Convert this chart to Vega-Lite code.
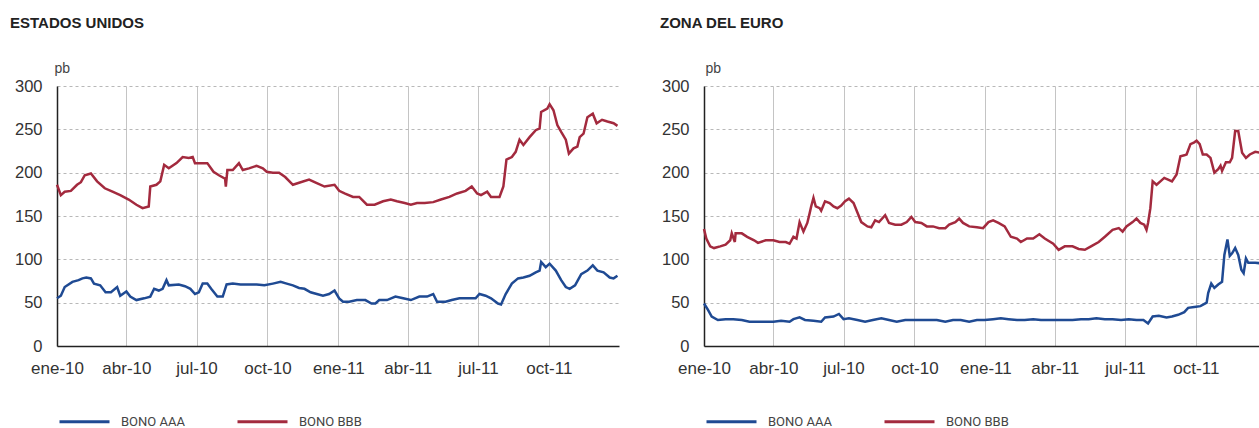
{
"$schema": "https://vega.github.io/schema/vega-lite/v6.json",
"padding": {"left": 10, "top": 16, "right": 0, "bottom": 0},
"background": "white",
"config": {"view": {"stroke": null}, "font": "Liberation Sans"},
"datasets": {"d": [
{"zona":"US","serie":"BONO BBB","fecha":"2010-01-01","pb":186},{"zona":"US","serie":"BONO BBB","fecha":"2010-01-06","pb":174},{"zona":"US","serie":"BONO BBB","fecha":"2010-01-11","pb":178},{"zona":"US","serie":"BONO BBB","fecha":"2010-01-19","pb":179},{"zona":"US","serie":"BONO BBB","fecha":"2010-01-27","pb":186},{"zona":"US","serie":"BONO BBB","fecha":"2010-02-01","pb":189},{"zona":"US","serie":"BONO BBB","fecha":"2010-02-06","pb":197},{"zona":"US","serie":"BONO BBB","fecha":"2010-02-14","pb":199},{"zona":"US","serie":"BONO BBB","fecha":"2010-02-22","pb":190},{"zona":"US","serie":"BONO BBB","fecha":"2010-03-04","pb":182},{"zona":"US","serie":"BONO BBB","fecha":"2010-03-14","pb":178},{"zona":"US","serie":"BONO BBB","fecha":"2010-03-24","pb":174},{"zona":"US","serie":"BONO BBB","fecha":"2010-04-04","pb":169},{"zona":"US","serie":"BONO BBB","fecha":"2010-04-14","pb":163},{"zona":"US","serie":"BONO BBB","fecha":"2010-04-22","pb":159},{"zona":"US","serie":"BONO BBB","fecha":"2010-04-30","pb":161},{"zona":"US","serie":"BONO BBB","fecha":"2010-05-02","pb":184},{"zona":"US","serie":"BONO BBB","fecha":"2010-05-10","pb":186},{"zona":"US","serie":"BONO BBB","fecha":"2010-05-15","pb":190},{"zona":"US","serie":"BONO BBB","fecha":"2010-05-20","pb":209},{"zona":"US","serie":"BONO BBB","fecha":"2010-05-26","pb":205},{"zona":"US","serie":"BONO BBB","fecha":"2010-06-05","pb":211},{"zona":"US","serie":"BONO BBB","fecha":"2010-06-13","pb":218},{"zona":"US","serie":"BONO BBB","fecha":"2010-06-21","pb":217},{"zona":"US","serie":"BONO BBB","fecha":"2010-06-26","pb":218},{"zona":"US","serie":"BONO BBB","fecha":"2010-06-29","pb":211},{"zona":"US","serie":"BONO BBB","fecha":"2010-07-07","pb":211},{"zona":"US","serie":"BONO BBB","fecha":"2010-07-15","pb":211},{"zona":"US","serie":"BONO BBB","fecha":"2010-07-23","pb":201},{"zona":"US","serie":"BONO BBB","fecha":"2010-07-30","pb":197},{"zona":"US","serie":"BONO BBB","fecha":"2010-08-07","pb":193},{"zona":"US","serie":"BONO BBB","fecha":"2010-08-08","pb":184},{"zona":"US","serie":"BONO BBB","fecha":"2010-08-10","pb":203},{"zona":"US","serie":"BONO BBB","fecha":"2010-08-17","pb":203},{"zona":"US","serie":"BONO BBB","fecha":"2010-08-25","pb":211},{"zona":"US","serie":"BONO BBB","fecha":"2010-08-30","pb":203},{"zona":"US","serie":"BONO BBB","fecha":"2010-09-07","pb":205},{"zona":"US","serie":"BONO BBB","fecha":"2010-09-17","pb":208},{"zona":"US","serie":"BONO BBB","fecha":"2010-09-25","pb":205},{"zona":"US","serie":"BONO BBB","fecha":"2010-09-30","pb":201},{"zona":"US","serie":"BONO BBB","fecha":"2010-10-08","pb":200},{"zona":"US","serie":"BONO BBB","fecha":"2010-10-16","pb":200},{"zona":"US","serie":"BONO BBB","fecha":"2010-10-24","pb":195},{"zona":"US","serie":"BONO BBB","fecha":"2010-11-03","pb":186},{"zona":"US","serie":"BONO BBB","fecha":"2010-11-13","pb":189},{"zona":"US","serie":"BONO BBB","fecha":"2010-11-24","pb":192},{"zona":"US","serie":"BONO BBB","fecha":"2010-12-04","pb":188},{"zona":"US","serie":"BONO BBB","fecha":"2010-12-14","pb":184},{"zona":"US","serie":"BONO BBB","fecha":"2010-12-27","pb":186},{"zona":"US","serie":"BONO BBB","fecha":"2011-01-02","pb":179},{"zona":"US","serie":"BONO BBB","fecha":"2011-01-09","pb":176},{"zona":"US","serie":"BONO BBB","fecha":"2011-01-20","pb":172},{"zona":"US","serie":"BONO BBB","fecha":"2011-01-28","pb":172},{"zona":"US","serie":"BONO BBB","fecha":"2011-02-07","pb":163},{"zona":"US","serie":"BONO BBB","fecha":"2011-02-17","pb":163},{"zona":"US","serie":"BONO BBB","fecha":"2011-02-28","pb":167},{"zona":"US","serie":"BONO BBB","fecha":"2011-03-10","pb":169},{"zona":"US","serie":"BONO BBB","fecha":"2011-03-18","pb":167},{"zona":"US","serie":"BONO BBB","fecha":"2011-03-28","pb":165},{"zona":"US","serie":"BONO BBB","fecha":"2011-04-05","pb":163},{"zona":"US","serie":"BONO BBB","fecha":"2011-04-13","pb":165},{"zona":"US","serie":"BONO BBB","fecha":"2011-04-23","pb":165},{"zona":"US","serie":"BONO BBB","fecha":"2011-05-04","pb":166},{"zona":"US","serie":"BONO BBB","fecha":"2011-05-14","pb":169},{"zona":"US","serie":"BONO BBB","fecha":"2011-05-25","pb":172},{"zona":"US","serie":"BONO BBB","fecha":"2011-06-04","pb":176},{"zona":"US","serie":"BONO BBB","fecha":"2011-06-15","pb":179},{"zona":"US","serie":"BONO BBB","fecha":"2011-06-23","pb":184},{"zona":"US","serie":"BONO BBB","fecha":"2011-06-30","pb":176},{"zona":"US","serie":"BONO BBB","fecha":"2011-07-05","pb":174},{"zona":"US","serie":"BONO BBB","fecha":"2011-07-13","pb":178},{"zona":"US","serie":"BONO BBB","fecha":"2011-07-18","pb":172},{"zona":"US","serie":"BONO BBB","fecha":"2011-07-29","pb":172},{"zona":"US","serie":"BONO BBB","fecha":"2011-08-03","pb":184},{"zona":"US","serie":"BONO BBB","fecha":"2011-08-07","pb":215},{"zona":"US","serie":"BONO BBB","fecha":"2011-08-14","pb":218},{"zona":"US","serie":"BONO BBB","fecha":"2011-08-19","pb":224},{"zona":"US","serie":"BONO BBB","fecha":"2011-08-24","pb":238},{"zona":"US","serie":"BONO BBB","fecha":"2011-08-29","pb":232},{"zona":"US","serie":"BONO BBB","fecha":"2011-09-06","pb":241},{"zona":"US","serie":"BONO BBB","fecha":"2011-09-14","pb":249},{"zona":"US","serie":"BONO BBB","fecha":"2011-09-19","pb":251},{"zona":"US","serie":"BONO BBB","fecha":"2011-09-21","pb":270},{"zona":"US","serie":"BONO BBB","fecha":"2011-09-29","pb":274},{"zona":"US","serie":"BONO BBB","fecha":"2011-10-02","pb":279},{"zona":"US","serie":"BONO BBB","fecha":"2011-10-07","pb":272},{"zona":"US","serie":"BONO BBB","fecha":"2011-10-12","pb":255},{"zona":"US","serie":"BONO BBB","fecha":"2011-10-17","pb":247},{"zona":"US","serie":"BONO BBB","fecha":"2011-10-23","pb":238},{"zona":"US","serie":"BONO BBB","fecha":"2011-10-27","pb":222},{"zona":"US","serie":"BONO BBB","fecha":"2011-11-02","pb":228},{"zona":"US","serie":"BONO BBB","fecha":"2011-11-07","pb":230},{"zona":"US","serie":"BONO BBB","fecha":"2011-11-10","pb":241},{"zona":"US","serie":"BONO BBB","fecha":"2011-11-15","pb":245},{"zona":"US","serie":"BONO BBB","fecha":"2011-11-20","pb":264},{"zona":"US","serie":"BONO BBB","fecha":"2011-11-27","pb":268},{"zona":"US","serie":"BONO BBB","fecha":"2011-12-02","pb":257},{"zona":"US","serie":"BONO BBB","fecha":"2011-12-09","pb":261},{"zona":"US","serie":"BONO BBB","fecha":"2011-12-16","pb":259},{"zona":"US","serie":"BONO BBB","fecha":"2011-12-24","pb":257},{"zona":"US","serie":"BONO BBB","fecha":"2011-12-29","pb":254},
{"zona":"US","serie":"BONO AAA","fecha":"2010-01-01","pb":55},{"zona":"US","serie":"BONO AAA","fecha":"2010-01-06","pb":58},{"zona":"US","serie":"BONO AAA","fecha":"2010-01-11","pb":68},{"zona":"US","serie":"BONO AAA","fecha":"2010-01-21","pb":74},{"zona":"US","serie":"BONO AAA","fecha":"2010-01-29","pb":76},{"zona":"US","serie":"BONO AAA","fecha":"2010-02-03","pb":78},{"zona":"US","serie":"BONO AAA","fecha":"2010-02-08","pb":79},{"zona":"US","serie":"BONO AAA","fecha":"2010-02-14","pb":78},{"zona":"US","serie":"BONO AAA","fecha":"2010-02-18","pb":72},{"zona":"US","serie":"BONO AAA","fecha":"2010-02-26","pb":70},{"zona":"US","serie":"BONO AAA","fecha":"2010-03-05","pb":62},{"zona":"US","serie":"BONO AAA","fecha":"2010-03-12","pb":62},{"zona":"US","serie":"BONO AAA","fecha":"2010-03-20","pb":68},{"zona":"US","serie":"BONO AAA","fecha":"2010-03-24","pb":58},{"zona":"US","serie":"BONO AAA","fecha":"2010-04-01","pb":63},{"zona":"US","serie":"BONO AAA","fecha":"2010-04-06","pb":57},{"zona":"US","serie":"BONO AAA","fecha":"2010-04-14","pb":53},{"zona":"US","serie":"BONO AAA","fecha":"2010-04-24","pb":55},{"zona":"US","serie":"BONO AAA","fecha":"2010-05-02","pb":57},{"zona":"US","serie":"BONO AAA","fecha":"2010-05-07","pb":66},{"zona":"US","serie":"BONO AAA","fecha":"2010-05-13","pb":64},{"zona":"US","serie":"BONO AAA","fecha":"2010-05-18","pb":66},{"zona":"US","serie":"BONO AAA","fecha":"2010-05-23","pb":76},{"zona":"US","serie":"BONO AAA","fecha":"2010-05-26","pb":70},{"zona":"US","serie":"BONO AAA","fecha":"2010-06-08","pb":71},{"zona":"US","serie":"BONO AAA","fecha":"2010-06-16","pb":69},{"zona":"US","serie":"BONO AAA","fecha":"2010-06-23","pb":66},{"zona":"US","serie":"BONO AAA","fecha":"2010-06-29","pb":60},{"zona":"US","serie":"BONO AAA","fecha":"2010-07-04","pb":62},{"zona":"US","serie":"BONO AAA","fecha":"2010-07-09","pb":72},{"zona":"US","serie":"BONO AAA","fecha":"2010-07-15","pb":72},{"zona":"US","serie":"BONO AAA","fecha":"2010-07-20","pb":66},{"zona":"US","serie":"BONO AAA","fecha":"2010-07-28","pb":57},{"zona":"US","serie":"BONO AAA","fecha":"2010-08-04","pb":57},{"zona":"US","serie":"BONO AAA","fecha":"2010-08-09","pb":71},{"zona":"US","serie":"BONO AAA","fecha":"2010-08-17","pb":72},{"zona":"US","serie":"BONO AAA","fecha":"2010-08-27","pb":71},{"zona":"US","serie":"BONO AAA","fecha":"2010-09-07","pb":71},{"zona":"US","serie":"BONO AAA","fecha":"2010-09-17","pb":71},{"zona":"US","serie":"BONO AAA","fecha":"2010-09-27","pb":70},{"zona":"US","serie":"BONO AAA","fecha":"2010-10-08","pb":72},{"zona":"US","serie":"BONO AAA","fecha":"2010-10-18","pb":74},{"zona":"US","serie":"BONO AAA","fecha":"2010-10-26","pb":72},{"zona":"US","serie":"BONO AAA","fecha":"2010-11-03","pb":70},{"zona":"US","serie":"BONO AAA","fecha":"2010-11-11","pb":67},{"zona":"US","serie":"BONO AAA","fecha":"2010-11-18","pb":66},{"zona":"US","serie":"BONO AAA","fecha":"2010-11-26","pb":62},{"zona":"US","serie":"BONO AAA","fecha":"2010-12-04","pb":60},{"zona":"US","serie":"BONO AAA","fecha":"2010-12-12","pb":58},{"zona":"US","serie":"BONO AAA","fecha":"2010-12-20","pb":60},{"zona":"US","serie":"BONO AAA","fecha":"2010-12-27","pb":64},{"zona":"US","serie":"BONO AAA","fecha":"2011-01-02","pb":55},{"zona":"US","serie":"BONO AAA","fecha":"2011-01-07","pb":51},{"zona":"US","serie":"BONO AAA","fecha":"2011-01-15","pb":51},{"zona":"US","serie":"BONO AAA","fecha":"2011-01-25","pb":53},{"zona":"US","serie":"BONO AAA","fecha":"2011-02-05","pb":53},{"zona":"US","serie":"BONO AAA","fecha":"2011-02-13","pb":49},{"zona":"US","serie":"BONO AAA","fecha":"2011-02-18","pb":49},{"zona":"US","serie":"BONO AAA","fecha":"2011-02-23","pb":53},{"zona":"US","serie":"BONO AAA","fecha":"2011-03-05","pb":53},{"zona":"US","serie":"BONO AAA","fecha":"2011-03-16","pb":57},{"zona":"US","serie":"BONO AAA","fecha":"2011-03-26","pb":55},{"zona":"US","serie":"BONO AAA","fecha":"2011-04-05","pb":53},{"zona":"US","serie":"BONO AAA","fecha":"2011-04-16","pb":57},{"zona":"US","serie":"BONO AAA","fecha":"2011-04-26","pb":57},{"zona":"US","serie":"BONO AAA","fecha":"2011-05-04","pb":60},{"zona":"US","serie":"BONO AAA","fecha":"2011-05-09","pb":51},{"zona":"US","serie":"BONO AAA","fecha":"2011-05-20","pb":51},{"zona":"US","serie":"BONO AAA","fecha":"2011-05-28","pb":53},{"zona":"US","serie":"BONO AAA","fecha":"2011-06-07","pb":55},{"zona":"US","serie":"BONO AAA","fecha":"2011-06-17","pb":55},{"zona":"US","serie":"BONO AAA","fecha":"2011-06-28","pb":55},{"zona":"US","serie":"BONO AAA","fecha":"2011-07-03","pb":60},{"zona":"US","serie":"BONO AAA","fecha":"2011-07-11","pb":58},{"zona":"US","serie":"BONO AAA","fecha":"2011-07-18","pb":55},{"zona":"US","serie":"BONO AAA","fecha":"2011-07-27","pb":49},{"zona":"US","serie":"BONO AAA","fecha":"2011-07-31","pb":48},{"zona":"US","serie":"BONO AAA","fecha":"2011-08-06","pb":60},{"zona":"US","serie":"BONO AAA","fecha":"2011-08-14","pb":72},{"zona":"US","serie":"BONO AAA","fecha":"2011-08-22","pb":78},{"zona":"US","serie":"BONO AAA","fecha":"2011-08-29","pb":79},{"zona":"US","serie":"BONO AAA","fecha":"2011-09-06","pb":81},{"zona":"US","serie":"BONO AAA","fecha":"2011-09-14","pb":85},{"zona":"US","serie":"BONO AAA","fecha":"2011-09-19","pb":87},{"zona":"US","serie":"BONO AAA","fecha":"2011-09-21","pb":97},{"zona":"US","serie":"BONO AAA","fecha":"2011-09-27","pb":91},{"zona":"US","serie":"BONO AAA","fecha":"2011-10-02","pb":95},{"zona":"US","serie":"BONO AAA","fecha":"2011-10-10","pb":87},{"zona":"US","serie":"BONO AAA","fecha":"2011-10-17","pb":76},{"zona":"US","serie":"BONO AAA","fecha":"2011-10-23","pb":68},{"zona":"US","serie":"BONO AAA","fecha":"2011-10-28","pb":66},{"zona":"US","serie":"BONO AAA","fecha":"2011-11-04","pb":70},{"zona":"US","serie":"BONO AAA","fecha":"2011-11-12","pb":83},{"zona":"US","serie":"BONO AAA","fecha":"2011-11-20","pb":87},{"zona":"US","serie":"BONO AAA","fecha":"2011-11-27","pb":93},{"zona":"US","serie":"BONO AAA","fecha":"2011-12-03","pb":87},{"zona":"US","serie":"BONO AAA","fecha":"2011-12-11","pb":85},{"zona":"US","serie":"BONO AAA","fecha":"2011-12-19","pb":79},{"zona":"US","serie":"BONO AAA","fecha":"2011-12-24","pb":78},{"zona":"US","serie":"BONO AAA","fecha":"2011-12-29","pb":81},
{"zona":"EU","serie":"BONO BBB","fecha":"2010-01-01","pb":135},{"zona":"EU","serie":"BONO BBB","fecha":"2010-01-04","pb":124},{"zona":"EU","serie":"BONO BBB","fecha":"2010-01-09","pb":115},{"zona":"EU","serie":"BONO BBB","fecha":"2010-01-14","pb":113},{"zona":"EU","serie":"BONO BBB","fecha":"2010-01-22","pb":115},{"zona":"EU","serie":"BONO BBB","fecha":"2010-01-29","pb":117},{"zona":"EU","serie":"BONO BBB","fecha":"2010-02-04","pb":122},{"zona":"EU","serie":"BONO BBB","fecha":"2010-02-06","pb":130},{"zona":"EU","serie":"BONO BBB","fecha":"2010-02-10","pb":120},{"zona":"EU","serie":"BONO BBB","fecha":"2010-02-11","pb":130},{"zona":"EU","serie":"BONO BBB","fecha":"2010-02-19","pb":130},{"zona":"EU","serie":"BONO BBB","fecha":"2010-02-26","pb":126},{"zona":"EU","serie":"BONO BBB","fecha":"2010-03-07","pb":122},{"zona":"EU","serie":"BONO BBB","fecha":"2010-03-12","pb":119},{"zona":"EU","serie":"BONO BBB","fecha":"2010-03-22","pb":122},{"zona":"EU","serie":"BONO BBB","fecha":"2010-04-01","pb":122},{"zona":"EU","serie":"BONO BBB","fecha":"2010-04-09","pb":120},{"zona":"EU","serie":"BONO BBB","fecha":"2010-04-17","pb":120},{"zona":"EU","serie":"BONO BBB","fecha":"2010-04-22","pb":118},{"zona":"EU","serie":"BONO BBB","fecha":"2010-04-27","pb":126},{"zona":"EU","serie":"BONO BBB","fecha":"2010-05-01","pb":124},{"zona":"EU","serie":"BONO BBB","fecha":"2010-05-05","pb":143},{"zona":"EU","serie":"BONO BBB","fecha":"2010-05-10","pb":132},{"zona":"EU","serie":"BONO BBB","fecha":"2010-05-15","pb":142},{"zona":"EU","serie":"BONO BBB","fecha":"2010-05-18","pb":153},{"zona":"EU","serie":"BONO BBB","fecha":"2010-05-20","pb":161},{"zona":"EU","serie":"BONO BBB","fecha":"2010-05-23","pb":171},{"zona":"EU","serie":"BONO BBB","fecha":"2010-05-26","pb":161},{"zona":"EU","serie":"BONO BBB","fecha":"2010-05-31","pb":159},{"zona":"EU","serie":"BONO BBB","fecha":"2010-06-02","pb":156},{"zona":"EU","serie":"BONO BBB","fecha":"2010-06-07","pb":167},{"zona":"EU","serie":"BONO BBB","fecha":"2010-06-13","pb":165},{"zona":"EU","serie":"BONO BBB","fecha":"2010-06-18","pb":161},{"zona":"EU","serie":"BONO BBB","fecha":"2010-06-23","pb":159},{"zona":"EU","serie":"BONO BBB","fecha":"2010-06-28","pb":162},{"zona":"EU","serie":"BONO BBB","fecha":"2010-07-03","pb":167},{"zona":"EU","serie":"BONO BBB","fecha":"2010-07-08","pb":170},{"zona":"EU","serie":"BONO BBB","fecha":"2010-07-14","pb":165},{"zona":"EU","serie":"BONO BBB","fecha":"2010-07-19","pb":154},{"zona":"EU","serie":"BONO BBB","fecha":"2010-07-24","pb":143},{"zona":"EU","serie":"BONO BBB","fecha":"2010-08-01","pb":138},{"zona":"EU","serie":"BONO BBB","fecha":"2010-08-06","pb":137},{"zona":"EU","serie":"BONO BBB","fecha":"2010-08-11","pb":145},{"zona":"EU","serie":"BONO BBB","fecha":"2010-08-16","pb":143},{"zona":"EU","serie":"BONO BBB","fecha":"2010-08-24","pb":151},{"zona":"EU","serie":"BONO BBB","fecha":"2010-08-29","pb":142},{"zona":"EU","serie":"BONO BBB","fecha":"2010-09-06","pb":140},{"zona":"EU","serie":"BONO BBB","fecha":"2010-09-14","pb":140},{"zona":"EU","serie":"BONO BBB","fecha":"2010-09-21","pb":143},{"zona":"EU","serie":"BONO BBB","fecha":"2010-09-27","pb":149},{"zona":"EU","serie":"BONO BBB","fecha":"2010-10-02","pb":143},{"zona":"EU","serie":"BONO BBB","fecha":"2010-10-10","pb":142},{"zona":"EU","serie":"BONO BBB","fecha":"2010-10-17","pb":138},{"zona":"EU","serie":"BONO BBB","fecha":"2010-10-25","pb":138},{"zona":"EU","serie":"BONO BBB","fecha":"2010-11-02","pb":136},{"zona":"EU","serie":"BONO BBB","fecha":"2010-11-10","pb":136},{"zona":"EU","serie":"BONO BBB","fecha":"2010-11-15","pb":140},{"zona":"EU","serie":"BONO BBB","fecha":"2010-11-23","pb":143},{"zona":"EU","serie":"BONO BBB","fecha":"2010-11-28","pb":147},{"zona":"EU","serie":"BONO BBB","fecha":"2010-12-03","pb":142},{"zona":"EU","serie":"BONO BBB","fecha":"2010-12-11","pb":138},{"zona":"EU","serie":"BONO BBB","fecha":"2010-12-21","pb":137},{"zona":"EU","serie":"BONO BBB","fecha":"2010-12-29","pb":136},{"zona":"EU","serie":"BONO BBB","fecha":"2011-01-05","pb":143},{"zona":"EU","serie":"BONO BBB","fecha":"2011-01-11","pb":145},{"zona":"EU","serie":"BONO BBB","fecha":"2011-01-18","pb":142},{"zona":"EU","serie":"BONO BBB","fecha":"2011-01-26","pb":138},{"zona":"EU","serie":"BONO BBB","fecha":"2011-02-03","pb":126},{"zona":"EU","serie":"BONO BBB","fecha":"2011-02-11","pb":124},{"zona":"EU","serie":"BONO BBB","fecha":"2011-02-16","pb":120},{"zona":"EU","serie":"BONO BBB","fecha":"2011-02-24","pb":124},{"zona":"EU","serie":"BONO BBB","fecha":"2011-03-04","pb":124},{"zona":"EU","serie":"BONO BBB","fecha":"2011-03-12","pb":129},{"zona":"EU","serie":"BONO BBB","fecha":"2011-03-19","pb":124},{"zona":"EU","serie":"BONO BBB","fecha":"2011-03-30","pb":118},{"zona":"EU","serie":"BONO BBB","fecha":"2011-04-06","pb":111},{"zona":"EU","serie":"BONO BBB","fecha":"2011-04-14","pb":115},{"zona":"EU","serie":"BONO BBB","fecha":"2011-04-24","pb":115},{"zona":"EU","serie":"BONO BBB","fecha":"2011-05-02","pb":112},{"zona":"EU","serie":"BONO BBB","fecha":"2011-05-10","pb":111},{"zona":"EU","serie":"BONO BBB","fecha":"2011-05-18","pb":115},{"zona":"EU","serie":"BONO BBB","fecha":"2011-05-28","pb":120},{"zona":"EU","serie":"BONO BBB","fecha":"2011-06-05","pb":126},{"zona":"EU","serie":"BONO BBB","fecha":"2011-06-15","pb":134},{"zona":"EU","serie":"BONO BBB","fecha":"2011-06-23","pb":136},{"zona":"EU","serie":"BONO BBB","fecha":"2011-06-28","pb":132},{"zona":"EU","serie":"BONO BBB","fecha":"2011-07-03","pb":138},{"zona":"EU","serie":"BONO BBB","fecha":"2011-07-11","pb":143},{"zona":"EU","serie":"BONO BBB","fecha":"2011-07-16","pb":147},{"zona":"EU","serie":"BONO BBB","fecha":"2011-07-21","pb":142},{"zona":"EU","serie":"BONO BBB","fecha":"2011-07-26","pb":140},{"zona":"EU","serie":"BONO BBB","fecha":"2011-07-29","pb":134},{"zona":"EU","serie":"BONO BBB","fecha":"2011-07-31","pb":142},{"zona":"EU","serie":"BONO BBB","fecha":"2011-08-03","pb":159},{"zona":"EU","serie":"BONO BBB","fecha":"2011-08-06","pb":190},{"zona":"EU","serie":"BONO BBB","fecha":"2011-08-11","pb":186},{"zona":"EU","serie":"BONO BBB","fecha":"2011-08-16","pb":190},{"zona":"EU","serie":"BONO BBB","fecha":"2011-08-21","pb":194},{"zona":"EU","serie":"BONO BBB","fecha":"2011-08-26","pb":192},{"zona":"EU","serie":"BONO BBB","fecha":"2011-08-31","pb":190},{"zona":"EU","serie":"BONO BBB","fecha":"2011-09-06","pb":198},{"zona":"EU","serie":"BONO BBB","fecha":"2011-09-11","pb":219},{"zona":"EU","serie":"BONO BBB","fecha":"2011-09-16","pb":220},{"zona":"EU","serie":"BONO BBB","fecha":"2011-09-19","pb":221},{"zona":"EU","serie":"BONO BBB","fecha":"2011-09-24","pb":233},{"zona":"EU","serie":"BONO BBB","fecha":"2011-09-29","pb":235},{"zona":"EU","serie":"BONO BBB","fecha":"2011-10-02","pb":237},{"zona":"EU","serie":"BONO BBB","fecha":"2011-10-06","pb":233},{"zona":"EU","serie":"BONO BBB","fecha":"2011-10-10","pb":221},{"zona":"EU","serie":"BONO BBB","fecha":"2011-10-15","pb":221},{"zona":"EU","serie":"BONO BBB","fecha":"2011-10-20","pb":217},{"zona":"EU","serie":"BONO BBB","fecha":"2011-10-25","pb":200},{"zona":"EU","serie":"BONO BBB","fecha":"2011-10-30","pb":204},{"zona":"EU","serie":"BONO BBB","fecha":"2011-11-02","pb":208},{"zona":"EU","serie":"BONO BBB","fecha":"2011-11-04","pb":202},{"zona":"EU","serie":"BONO BBB","fecha":"2011-11-09","pb":212},{"zona":"EU","serie":"BONO BBB","fecha":"2011-11-14","pb":212},{"zona":"EU","serie":"BONO BBB","fecha":"2011-11-17","pb":217},{"zona":"EU","serie":"BONO BBB","fecha":"2011-11-21","pb":248},{"zona":"EU","serie":"BONO BBB","fecha":"2011-11-25","pb":248},{"zona":"EU","serie":"BONO BBB","fecha":"2011-11-30","pb":223},{"zona":"EU","serie":"BONO BBB","fecha":"2011-12-05","pb":217},{"zona":"EU","serie":"BONO BBB","fecha":"2011-12-10","pb":221},{"zona":"EU","serie":"BONO BBB","fecha":"2011-12-17","pb":224},{"zona":"EU","serie":"BONO BBB","fecha":"2011-12-30","pb":222},
{"zona":"EU","serie":"BONO AAA","fecha":"2010-01-01","pb":49},{"zona":"EU","serie":"BONO AAA","fecha":"2010-01-06","pb":42},{"zona":"EU","serie":"BONO AAA","fecha":"2010-01-11","pb":34},{"zona":"EU","serie":"BONO AAA","fecha":"2010-01-19","pb":30},{"zona":"EU","serie":"BONO AAA","fecha":"2010-01-29","pb":31},{"zona":"EU","serie":"BONO AAA","fecha":"2010-02-08","pb":31},{"zona":"EU","serie":"BONO AAA","fecha":"2010-02-19","pb":30},{"zona":"EU","serie":"BONO AAA","fecha":"2010-03-01","pb":28},{"zona":"EU","serie":"BONO AAA","fecha":"2010-03-12","pb":28},{"zona":"EU","serie":"BONO AAA","fecha":"2010-03-22","pb":28},{"zona":"EU","serie":"BONO AAA","fecha":"2010-04-01","pb":28},{"zona":"EU","serie":"BONO AAA","fecha":"2010-04-11","pb":29},{"zona":"EU","serie":"BONO AAA","fecha":"2010-04-22","pb":28},{"zona":"EU","serie":"BONO AAA","fecha":"2010-04-27","pb":31},{"zona":"EU","serie":"BONO AAA","fecha":"2010-05-05","pb":33},{"zona":"EU","serie":"BONO AAA","fecha":"2010-05-12","pb":30},{"zona":"EU","serie":"BONO AAA","fecha":"2010-05-23","pb":29},{"zona":"EU","serie":"BONO AAA","fecha":"2010-06-02","pb":28},{"zona":"EU","serie":"BONO AAA","fecha":"2010-06-07","pb":33},{"zona":"EU","serie":"BONO AAA","fecha":"2010-06-18","pb":34},{"zona":"EU","serie":"BONO AAA","fecha":"2010-06-25","pb":37},{"zona":"EU","serie":"BONO AAA","fecha":"2010-07-01","pb":31},{"zona":"EU","serie":"BONO AAA","fecha":"2010-07-08","pb":32},{"zona":"EU","serie":"BONO AAA","fecha":"2010-07-19","pb":30},{"zona":"EU","serie":"BONO AAA","fecha":"2010-07-29","pb":28},{"zona":"EU","serie":"BONO AAA","fecha":"2010-08-08","pb":30},{"zona":"EU","serie":"BONO AAA","fecha":"2010-08-19","pb":32},{"zona":"EU","serie":"BONO AAA","fecha":"2010-08-29","pb":30},{"zona":"EU","serie":"BONO AAA","fecha":"2010-09-08","pb":28},{"zona":"EU","serie":"BONO AAA","fecha":"2010-09-19","pb":30},{"zona":"EU","serie":"BONO AAA","fecha":"2010-09-29","pb":30},{"zona":"EU","serie":"BONO AAA","fecha":"2010-10-10","pb":30},{"zona":"EU","serie":"BONO AAA","fecha":"2010-10-20","pb":30},{"zona":"EU","serie":"BONO AAA","fecha":"2010-10-30","pb":30},{"zona":"EU","serie":"BONO AAA","fecha":"2010-11-10","pb":28},{"zona":"EU","serie":"BONO AAA","fecha":"2010-11-20","pb":30},{"zona":"EU","serie":"BONO AAA","fecha":"2010-11-30","pb":30},{"zona":"EU","serie":"BONO AAA","fecha":"2010-12-11","pb":28},{"zona":"EU","serie":"BONO AAA","fecha":"2010-12-21","pb":30},{"zona":"EU","serie":"BONO AAA","fecha":"2010-12-31","pb":30},{"zona":"EU","serie":"BONO AAA","fecha":"2011-01-11","pb":31},{"zona":"EU","serie":"BONO AAA","fecha":"2011-01-21","pb":32},{"zona":"EU","serie":"BONO AAA","fecha":"2011-01-31","pb":31},{"zona":"EU","serie":"BONO AAA","fecha":"2011-02-11","pb":30},{"zona":"EU","serie":"BONO AAA","fecha":"2011-02-21","pb":30},{"zona":"EU","serie":"BONO AAA","fecha":"2011-03-04","pb":31},{"zona":"EU","serie":"BONO AAA","fecha":"2011-03-14","pb":30},{"zona":"EU","serie":"BONO AAA","fecha":"2011-03-24","pb":30},{"zona":"EU","serie":"BONO AAA","fecha":"2011-04-04","pb":30},{"zona":"EU","serie":"BONO AAA","fecha":"2011-04-14","pb":30},{"zona":"EU","serie":"BONO AAA","fecha":"2011-04-24","pb":30},{"zona":"EU","serie":"BONO AAA","fecha":"2011-05-05","pb":31},{"zona":"EU","serie":"BONO AAA","fecha":"2011-05-15","pb":31},{"zona":"EU","serie":"BONO AAA","fecha":"2011-05-25","pb":32},{"zona":"EU","serie":"BONO AAA","fecha":"2011-06-05","pb":31},{"zona":"EU","serie":"BONO AAA","fecha":"2011-06-15","pb":31},{"zona":"EU","serie":"BONO AAA","fecha":"2011-06-26","pb":30},{"zona":"EU","serie":"BONO AAA","fecha":"2011-07-06","pb":31},{"zona":"EU","serie":"BONO AAA","fecha":"2011-07-16","pb":30},{"zona":"EU","serie":"BONO AAA","fecha":"2011-07-25","pb":30},{"zona":"EU","serie":"BONO AAA","fecha":"2011-07-31","pb":26},{"zona":"EU","serie":"BONO AAA","fecha":"2011-08-06","pb":34},{"zona":"EU","serie":"BONO AAA","fecha":"2011-08-14","pb":35},{"zona":"EU","serie":"BONO AAA","fecha":"2011-08-24","pb":33},{"zona":"EU","serie":"BONO AAA","fecha":"2011-08-31","pb":34},{"zona":"EU","serie":"BONO AAA","fecha":"2011-09-08","pb":36},{"zona":"EU","serie":"BONO AAA","fecha":"2011-09-16","pb":39},{"zona":"EU","serie":"BONO AAA","fecha":"2011-09-21","pb":44},{"zona":"EU","serie":"BONO AAA","fecha":"2011-09-29","pb":45},{"zona":"EU","serie":"BONO AAA","fecha":"2011-10-07","pb":46},{"zona":"EU","serie":"BONO AAA","fecha":"2011-10-15","pb":50},{"zona":"EU","serie":"BONO AAA","fecha":"2011-10-17","pb":61},{"zona":"EU","serie":"BONO AAA","fecha":"2011-10-21","pb":72},{"zona":"EU","serie":"BONO AAA","fecha":"2011-10-25","pb":67},{"zona":"EU","serie":"BONO AAA","fecha":"2011-10-30","pb":71},{"zona":"EU","serie":"BONO AAA","fecha":"2011-11-04","pb":74},{"zona":"EU","serie":"BONO AAA","fecha":"2011-11-07","pb":105},{"zona":"EU","serie":"BONO AAA","fecha":"2011-11-11","pb":123},{"zona":"EU","serie":"BONO AAA","fecha":"2011-11-14","pb":104},{"zona":"EU","serie":"BONO AAA","fecha":"2011-11-17","pb":107},{"zona":"EU","serie":"BONO AAA","fecha":"2011-11-21","pb":113},{"zona":"EU","serie":"BONO AAA","fecha":"2011-11-25","pb":105},{"zona":"EU","serie":"BONO AAA","fecha":"2011-11-29","pb":88},{"zona":"EU","serie":"BONO AAA","fecha":"2011-12-02","pb":84},{"zona":"EU","serie":"BONO AAA","fecha":"2011-12-05","pb":101},{"zona":"EU","serie":"BONO AAA","fecha":"2011-12-08","pb":96},{"zona":"EU","serie":"BONO AAA","fecha":"2011-12-13","pb":96},{"zona":"EU","serie":"BONO AAA","fecha":"2011-12-17","pb":96},{"zona":"EU","serie":"BONO AAA","fecha":"2011-12-30","pb":95}
]},
"data": {"name": "d"},
"resolve": {"legend": {"color": "independent"}},
"spacing": 85,
"bounds": "flush",
"hconcat": [
{
 "width": 562, "height": 260,
 "title": {"text": "ESTADOS UNIDOS", "anchor": "start", "frame": "group", "dx": -47, "fontSize": 15, "fontWeight": "bold", "color": "#222", "font": "Liberation Sans", "offset": 30},
 "transform": [{"filter": "datum.zona === 'US'"}],
 "mark": {"type": "line", "strokeWidth": 2.5},
 "encoding": {
  "x": {"field": "fecha", "type": "temporal",
   "scale": {"type": "utc", "domain": [{"year": 2010, "month": 1, "date": 1, "utc": true}, {"year": 2011, "month": 12, "date": 31, "utc": true}]},
   "axis": {"title": null, "values": [{"year": 2010, "month": 1, "date": 1, "utc": true}, {"year": 2010, "month": 4, "date": 1, "utc": true}, {"year": 2010, "month": 7, "date": 1, "utc": true}, {"year": 2010, "month": 10, "date": 1, "utc": true}, {"year": 2011, "month": 1, "date": 1, "utc": true}, {"year": 2011, "month": 4, "date": 1, "utc": true}, {"year": 2011, "month": 7, "date": 1, "utc": true}, {"year": 2011, "month": 10, "date": 1, "utc": true}],
    "labelExpr": "['ene','feb','mar','abr','may','jun','jul','ago','sep','oct','nov','dic'][utcmonth(datum.value)] + '-' + utcFormat(datum.value, '%y')",
    "grid": true, "gridColor": "#c4c4c4", "gridWidth": 1, "ticks": false, "tickSize": 0, "domainColor": "#222", "domainWidth": 1.5,
    "labelFontSize": 17, "labelColor": "#333", "labelPadding": 14, "labelFlush": false, "labelOverlap": false}},
  "y": {"field": "pb", "type": "quantitative", "scale": {"domain": [0, 300], "nice": false},
   "axis": {"title": "pb", "titleAngle": 0, "titleAlign": "left", "titleBaseline": "alphabetic", "titleX": -3, "titleY": -14, "titleFontSize": 14, "titleFontWeight": "normal", "titleColor": "#444",
    "values": [0, 50, 100, 150, 200, 250, 300], "grid": true, "gridDash": [3, 3], "gridColor": "#b8b8b8", "ticks": false, "tickSize": 0, "labelPadding": 15,
    "domainColor": "#222", "domainWidth": 1.5, "labelFontSize": 16.5, "labelColor": "#333"}},
  "color": {"field": "serie", "type": "nominal", "scale": {"domain": ["BONO AAA", "BONO BBB"], "range": ["#1f4a93", "#a32a3e"]},
   "legend": {"title": null, "orient": "none", "legendX": 1, "legendY": 309, "direction": "horizontal", "symbolType": "stroke", "symbolSize": 2500, "symbolStrokeWidth": 3, "labelFont": "Roboto", "labelFontSize": 13, "labelColor": "#444", "labelOffset": 10, "columnPadding": 46}}
 }
},
{
 "width": 562, "height": 260,
 "title": {"text": "ZONA DEL EURO", "anchor": "start", "frame": "group", "dx": -44, "fontSize": 15, "fontWeight": "bold", "color": "#222", "font": "Liberation Sans", "offset": 30},
 "transform": [{"filter": "datum.zona === 'EU'"}],
 "mark": {"type": "line", "strokeWidth": 2.5},
 "encoding": {
  "x": {"field": "fecha", "type": "temporal",
   "scale": {"type": "utc", "domain": [{"year": 2010, "month": 1, "date": 1, "utc": true}, {"year": 2011, "month": 12, "date": 31, "utc": true}]},
   "axis": {"title": null, "values": [{"year": 2010, "month": 1, "date": 1, "utc": true}, {"year": 2010, "month": 4, "date": 1, "utc": true}, {"year": 2010, "month": 7, "date": 1, "utc": true}, {"year": 2010, "month": 10, "date": 1, "utc": true}, {"year": 2011, "month": 1, "date": 1, "utc": true}, {"year": 2011, "month": 4, "date": 1, "utc": true}, {"year": 2011, "month": 7, "date": 1, "utc": true}, {"year": 2011, "month": 10, "date": 1, "utc": true}],
    "labelExpr": "['ene','feb','mar','abr','may','jun','jul','ago','sep','oct','nov','dic'][utcmonth(datum.value)] + '-' + utcFormat(datum.value, '%y')",
    "grid": true, "gridColor": "#c4c4c4", "gridWidth": 1, "ticks": false, "tickSize": 0, "domainColor": "#222", "domainWidth": 1.5,
    "labelFontSize": 17, "labelColor": "#333", "labelPadding": 14, "labelFlush": false, "labelOverlap": false}},
  "y": {"field": "pb", "type": "quantitative", "scale": {"domain": [0, 300], "nice": false},
   "axis": {"title": "pb", "titleAngle": 0, "titleAlign": "left", "titleBaseline": "alphabetic", "titleX": 1, "titleY": -14, "titleFontSize": 14, "titleFontWeight": "normal", "titleColor": "#444",
    "values": [0, 50, 100, 150, 200, 250, 300], "grid": true, "gridDash": [3, 3], "gridColor": "#b8b8b8", "ticks": false, "tickSize": 0, "labelPadding": 15,
    "domainColor": "#222", "domainWidth": 1.5, "labelFontSize": 16.5, "labelColor": "#333"}},
  "color": {"field": "serie", "type": "nominal", "scale": {"domain": ["BONO AAA", "BONO BBB"], "range": ["#1f4a93", "#a32a3e"]},
   "legend": {"title": null, "orient": "none", "legendX": 1, "legendY": 309, "direction": "horizontal", "symbolType": "stroke", "symbolSize": 2500, "symbolStrokeWidth": 3, "labelFont": "Roboto", "labelFontSize": 13, "labelColor": "#444", "labelOffset": 10, "columnPadding": 46}}
 }
}
]
}
